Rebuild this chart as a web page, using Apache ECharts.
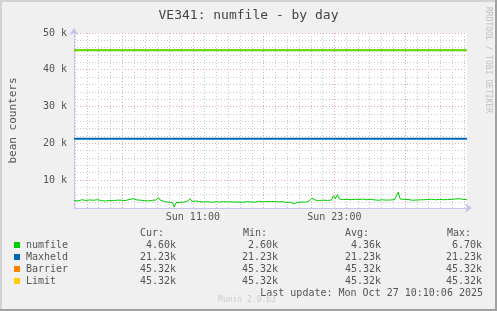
<!DOCTYPE html>
<html><head><meta charset="utf-8">
<script src="https://cdn.jsdelivr.net/npm/echarts@6/dist/echarts.min.js"></script>
<style>html,body{margin:0;padding:0;background:#f0f0f0;overflow:hidden}#c{width:497px;height:311px}</style>
</head><body><div id="c"></div>
<script>
const titleText = 'VE341: numfile - by day';
const yAxisName = 'bean counters';
const sideText = 'RRDTOOL / TOBI OETIKER';
const footerText = 'Munin 2.0.63';
const lastUpdate = 'Last update: Mon Oct 27 10:10:06 2025';
// time axis in hours since Sun 00:00
const startHour = 55 / 60;   // Sun 00:55
const stepHours = 10 / 60;   // 10-minute samples
const endHour = 34.25;       // Mon 10:15
const numfile = [
 4380,4510,4290,4450,4600,4340,4420,4280,4550,4390,4470,4310,4620,4400,4350,4530,4270,4480,4410,4560,4330,4440,4500,4360,4470,
 4590,4380,4520,4650,4430,4900,
 4420,4560,4310,4480,4640,4370,4500,4290,4610,4440,4380,4570,
 5200,
 4480,4310,4150,4020,3940,4080,3860,
 2600,
 3820,4010,3900,4080,3950,4120,4300,
 4900,
 4180,4020,4260,3950,4110,4300,3980,4200,4070,4340,3920,4150,4050,4280,3990,4210,4100,
 4620,
 4050,3980,4020,3950,3990,4030,3960,4010,3940,4000,4060,3970,4020,4110,3930,4050,4180,3900,4040,3960,4130,3880,4070,3990,4150,3920,4040,3860,4100,3980,3870,4060,3940,3780,
 3520,3600,
 3920,4050,3980,4100,3960,4080,
 4400,5000,
 4580,4460,4620,4410,4550,4480,4690,4420,4560,4500,
 5700,4900,6000,
 4820,5100,4640,4900,4700,4580,
 4620,4490,4750,4560,4680,4470,4800,4530,4610,4450,4700,4980,4560,4640,4480,4720,4590,4660,4500,4780,4550,4690,4620,4850,
 6700,
 4800,4650,4720,4560,4690,4600,4480,4640,4530,4700,4580,4450,4620,4510,4680,4560,4740,4490,4610,4550,4700,4480,4620,4580,4660,4520,4710,
 4950,4800,5080,4880,5000,
 4720,4500,4600
];
const maxheldValue = 21230;
const barrierValue = 45320;
const limitValue = 45320;
const yMin = 2360, yMax = 50000;
const yMajorTicks = [10000, 20000, 30000, 40000, 50000];
const yMajorLabels = ['10 k', '20 k', '30 k', '40 k', '50 k'];
const yMinorTicks = [4000,6000,8000,12000,14000,16000,18000,22000,24000,26000,28000,32000,34000,36000,38000,42000,44000,46000,48000];
const xMajorTicks = [5, 11, 17, 23, 29];
const xLabelTicks = [11, 23];
const xLabels = ['Sun 11:00', 'Sun 23:00'];
const xMinorTicks = [1,2,3,4,6,7,8,9,10,12,13,14,15,16,18,19,20,21,22,24,25,26,27,28,30,31,32,33,34];
const legendNames = ['numfile', 'Maxheld', 'Barrier', 'Limit'];
const legendColors = ['#00cc00', '#0066b3', '#ff8000', '#ffcc00'];
const colHeaders = ['Cur:', 'Min:', 'Avg:', 'Max:'];
const curVals = ['4.60k', '21.23k', '45.32k', '45.32k'];
const minVals = ['2.60k', '21.23k', '45.32k', '45.32k'];
const avgVals = ['4.36k', '21.23k', '45.32k', '45.32k'];
const maxVals = ['6.70k', '21.23k', '45.32k', '45.32k'];

const FONT = 'DejaVu Sans Mono';
const chart = echarts.init(document.getElementById('c'), null, {renderer: 'canvas'});

const gridL = 67, gridT = 33, gridW = 400, gridH = 175;
const graphic = [];
// frame
graphic.push({type:'rect', shape:{x:0,y:0,width:497,height:2}, style:{fill:'#d2d2d2'}, silent:true});
graphic.push({type:'rect', shape:{x:0,y:0,width:2,height:311}, style:{fill:'#d2d2d2'}, silent:true});
graphic.push({type:'rect', shape:{x:495,y:0,width:2,height:311}, style:{fill:'#a2a2a2'}, silent:true});
graphic.push({type:'rect', shape:{x:0,y:309,width:497,height:2}, style:{fill:'#a2a2a2'}, silent:true});
// side text
graphic.push({type:'text', x:488, y:60, rotation:-Math.PI/2, style:{text:sideText, font:'8px ' + FONT, fill:'#c0c0c0', align:'center', verticalAlign:'middle'}, silent:true});
// legend
const rowY0 = 245, rowDY = 12;
const colRight = [176, 278, 381, 482];
const colHeadLeft = [140, 243, 345, 447];
const cols = [curVals, minVals, avgVals, maxVals];
colHeaders.forEach((h, k) => graphic.push({type:'text', x:colHeadLeft[k], y:233, style:{text:h, font:'10px ' + FONT, fill:'#555', align:'left', verticalAlign:'middle'}}));
legendNames.forEach((n, r) => {
  const y = rowY0 + r * rowDY;
  graphic.push({type:'rect', shape:{x:14, y:y-3, width:6, height:6}, style:{fill:legendColors[r]}});
  graphic.push({type:'text', x:26, y:y, style:{text:n, font:'10px ' + FONT, fill:'#555', align:'left', verticalAlign:'middle'}});
  cols.forEach((c, k) => graphic.push({type:'text', x:colRight[k], y:y, style:{text:c[r], font:'10px ' + FONT, fill:'#555', align:'right', verticalAlign:'middle'}}));
});
graphic.push({type:'text', x:483, y:293, style:{text:lastUpdate, font:'10px ' + FONT, fill:'#555', align:'right', verticalAlign:'middle'}});
graphic.push({type:'text', x:247, y:300, style:{text:footerText, font:'8px ' + FONT, fill:'#cccccc', align:'center', verticalAlign:'middle'}});

const axisLineColor = '#c4c4ee';
const option = {
  animation: false,
  backgroundColor: '#f0f0f0',
  textStyle: {fontFamily: FONT},
  title: {text: titleText, left: 'center', top: 4, textStyle: {fontFamily: FONT, fontSize: 13, fontWeight: 'normal', color: '#444'}},
  grid: {left: gridL, top: gridT, width: gridW, height: gridH, show: true, backgroundColor: '#ffffff', borderWidth: 0, containLabel: false},
  xAxis: [
    {type:'value', min:startHour, max:endHour, position:'bottom',
     axisLine:{show:true, onZero:false, lineStyle:{color:axisLineColor, width:1}, symbol:['none','arrow'], symbolSize:[7,7], symbolOffset:[0,5]},
     axisTick:{show:false, customValues:xMajorTicks},
     axisLabel:{customValues:xLabelTicks, formatter:(v)=>xLabels[xLabelTicks.indexOf(Math.round(v))] || '', fontFamily:FONT, fontSize:10, color:'#555', margin:4},
     splitLine:{show:true, lineStyle:{color:'#eba5a5', type:[1,2], width:1}}},
    {type:'value', min:startHour, max:endHour, position:'bottom',
     axisLine:{show:false}, axisTick:{show:false, customValues:xMinorTicks}, axisLabel:{show:false},
     splitLine:{show:true, lineStyle:{color:'#c8c8c8', type:[1,2], width:1}}}
  ],
  yAxis: [
    {type:'value', min:yMin, max:yMax, position:'left',
     name:yAxisName, nameLocation:'middle', nameGap:55, nameRotate:90,
     nameTextStyle:{fontFamily:FONT, fontSize:11, color:'#555'},
     axisLine:{show:true, onZero:false, lineStyle:{color:axisLineColor, width:1}, symbol:['none','arrow'], symbolSize:[7,7], symbolOffset:[0,5]},
     axisTick:{show:false, customValues:yMajorTicks},
     axisLabel:{customValues:yMajorTicks, formatter:(v)=>yMajorLabels[yMajorTicks.indexOf(Math.round(v))] || '', fontFamily:FONT, fontSize:10, color:'#555', margin:7},
     splitLine:{show:true, lineStyle:{color:'#eba5a5', type:[1,2], width:1}}},
    {type:'value', min:yMin, max:yMax, position:'left',
     axisLine:{show:false}, axisTick:{show:false, customValues:yMinorTicks}, axisLabel:{show:false},
     splitLine:{show:true, lineStyle:{color:'#c8c8c8', type:[1,2], width:1}}}
  ],
  graphic: graphic,
  series: [
    {name:'numfile', type:'line', xAxisIndex:0, yAxisIndex:0, showSymbol:false, symbol:'none',
     data: numfile.map((v, i) => [startHour + i * stepHours, v]),
     lineStyle:{color:legendColors[0], width:1}, z:5},
    {name:'Maxheld', type:'line', xAxisIndex:0, yAxisIndex:0, symbol:'none',
     data: [[startHour, maxheldValue], [endHour, maxheldValue]],
     lineStyle:{color:legendColors[1], width:2}, z:4},
    {name:'Barrier', type:'line', xAxisIndex:0, yAxisIndex:0, symbol:'none',
     data: [[startHour, barrierValue], [endHour, barrierValue]],
     lineStyle:{color:'#33cc00', width:2}, z:3},
    {name:'Limit', type:'line', xAxisIndex:0, yAxisIndex:0, symbol:'none',
     data: [[startHour, limitValue], [endHour, limitValue]],
     lineStyle:{color:'#99d400', width:1}, z:4}
  ]
};
chart.setOption(option);
</script></body></html>
